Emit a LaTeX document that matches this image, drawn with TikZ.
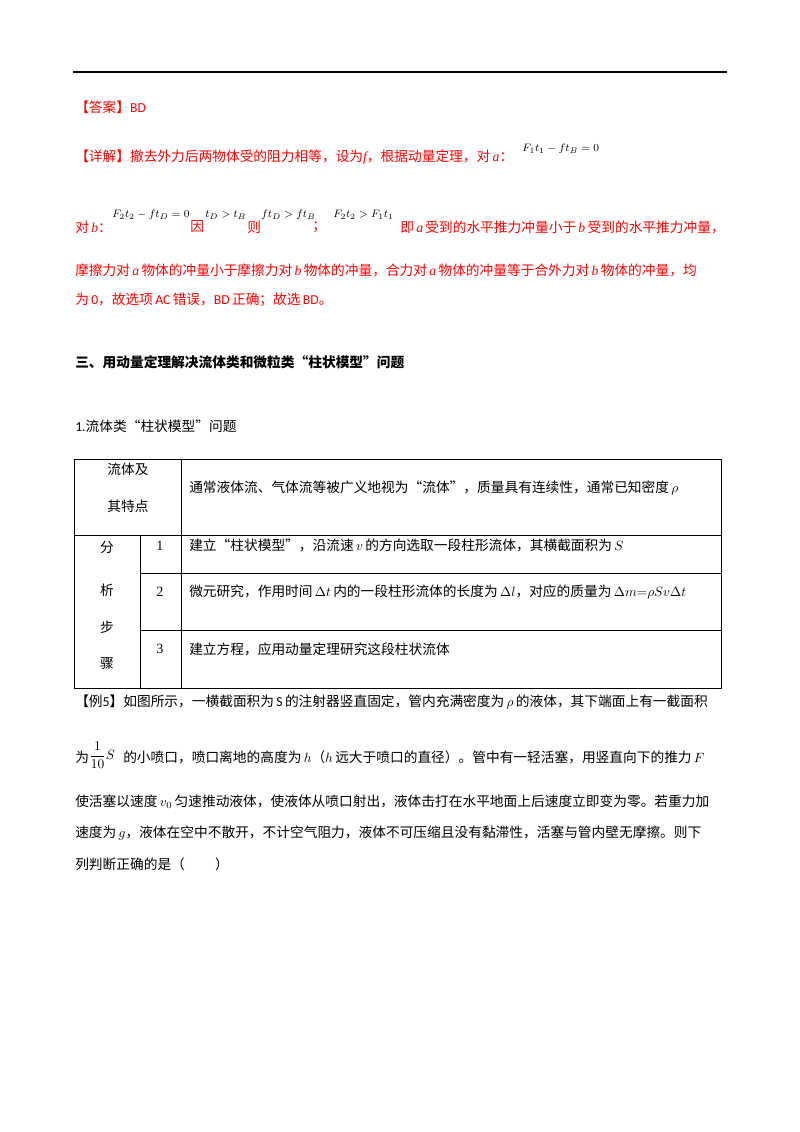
\documentclass[tikz,border=0pt]{standalone}
\usepackage{fontspec}
\setmainfont{Liberation Serif}
\newfontfamily\cjk{Noto Sans CJK SC}
\newfontfamily\lat{Carlito}
\newfontfamily\ser{Liberation Serif}
\newcommand\vi[1]{{\ser\itshape #1}}
\begin{document}
\begin{tikzpicture}[x=0.744pt,y=-0.744pt,
  t/.style={anchor=west,inner sep=0pt,font=\fontsize{10.2}{12}\selectfont\cjk},
  rt/.style={t,text=red},
  fm/.style={anchor=west,inner sep=0pt,font=\fontsize{8.5}{10}\selectfont},
  grid/.style={line width=0.7pt}]
\useasboundingbox (0,0) rectangle (800,1132);
\fill[white] (0,0) rectangle (800,1132);
\draw[line width=1.4pt] (73,72) -- (727,72);
\node[rt] (ans) at (75,107) {【答案】{\lat BD}};
\node[rt] (d1) at (75,157) {【详解】撤去外力后两物体受的阻力相等，设为\vi{f}，根据动量定理，对\,\vi{a}：};
\node[fm] (f1) at (522,149) {$F_1t_1-ft_B=0$};
\node[rt] (d2a) at (75,227) {对\,\vi{b}：};
\node[fm] (f2) at (112,215) {$F_2t_2-ft_D=0$};
\node[rt] (d2b) at (190,227) {因};
\node[fm] (f3) at (205,215) {$t_D>t_B$};
\node[rt] (d2c) at (247,227) {则};
\node[fm] (f4) at (261,215) {$ft_D>ft_B$};
\node[rt] (d2d) at (312,227) {；};
\node[fm] (f5) at (333,215) {$F_2t_2>F_1t_1$};
\node[rt] (d2e) at (400,227) {即\,\vi{a}\,受到的水平推力冲量小于\,\vi{b}\,受到的水平推力冲量，};
\node[rt] (d3) at (75,270) {摩擦力对\,\vi{a}\,物体的冲量小于摩擦力对\,\vi{b}\,物体的冲量，合力对\,\vi{a}\,物体的冲量等于合外力对\,\vi{b}\,物体的冲量，均};
\node[rt] (d4) at (75,300) {为\,{\lat 0}，故选项\,{\lat AC}\,错误，{\lat BD}\,正确；故选\,{\lat BD}。};
\node[t,font=\fontsize{10.2}{12}\selectfont\cjk\bfseries] (h) at (75,362) {三、用动量定理解决流体类和微粒类“柱状模型”问题};
\node[t] (h2) at (75,426) {{\lat 1.}流体类“柱状模型”问题};
% table
\draw[grid] (74,459) rectangle (721,688);
\draw[grid] (74,535) -- (721,535);
\draw[grid] (181,459) -- (181,688);
\draw[grid] (140,535) -- (140,688);
\draw[grid] (140,573) -- (721,573);
\draw[grid] (140,630) -- (721,630);
\node[t,anchor=center] (c1) at (128,469) {流体及};
\node[t,anchor=center] (c2) at (128,506) {其特点};
\node[t] (c3) at (189,488) {通常液体流、气体流等被广义地视为“流体”，质量具有连续性，通常已知密度\,$\rho$};
\node[t,anchor=center] (s1) at (107,547) {分};
\node[t,anchor=center] (s2) at (107,590) {析};
\node[t,anchor=center] (s3) at (107,627) {步};
\node[t,anchor=center] (s4) at (107,664) {骤};
\node[t,anchor=center,font=\fontsize{10.5}{12}\selectfont] (n1) at (160,546) {1};
\node[t,anchor=center,font=\fontsize{10.5}{12}\selectfont] (n2) at (160,592) {2};
\node[t,anchor=center,font=\fontsize{10.5}{12}\selectfont] (n3) at (160,649) {3};
\node[t] (r1) at (189,545) {建立“柱状模型”，沿流速\,$v$\,的方向选取一段柱形流体，其横截面积为\,$S$};
\node[t] (r2) at (189,592) {微元研究，作用时间\,$\Delta t$\,内的一段柱形流体的长度为\,$\Delta l$，对应的质量为\,$\Delta m{=}\rho S v\Delta t$};
\node[t] (r3) at (189,649) {建立方程，应用动量定理研究这段柱状流体};
\node[t] (e1) at (75,702) {【例{\lat 5}】如图所示，一横截面积为\,{\lat S}\,的注射器竖直固定，管内充满密度为\,$\rho$\,的液体，其下端面上有一截面积};
\node[t] (e2a) at (75,757) {为};
\node[anchor=west,inner sep=0pt] (fr) at (89,755) {$\displaystyle\frac{1}{10}S$};
\node[t] (e2b) at (123,757) {的小喷口，喷口离地的高度为\,$h$（$h$\,远大于喷口的直径）。管中有一轻活塞，用竖直向下的推力\,$F$};
\node[t] (e3) at (75,802) {使活塞以速度\,$v_0$\,匀速推动液体，使液体从喷口射出，液体击打在水平地面上后速度立即变为零。若重力加};
\node[t] (e4) at (75,833) {速度为\,$g$，液体在空中不散开，不计空气阻力，液体不可压缩且没有黏滞性，活塞与管内壁无摩擦。则下};
\node[t] (e5) at (75,864) {列判断正确的是（\hspace{2.2em}）};
\end{tikzpicture}
\end{document}
